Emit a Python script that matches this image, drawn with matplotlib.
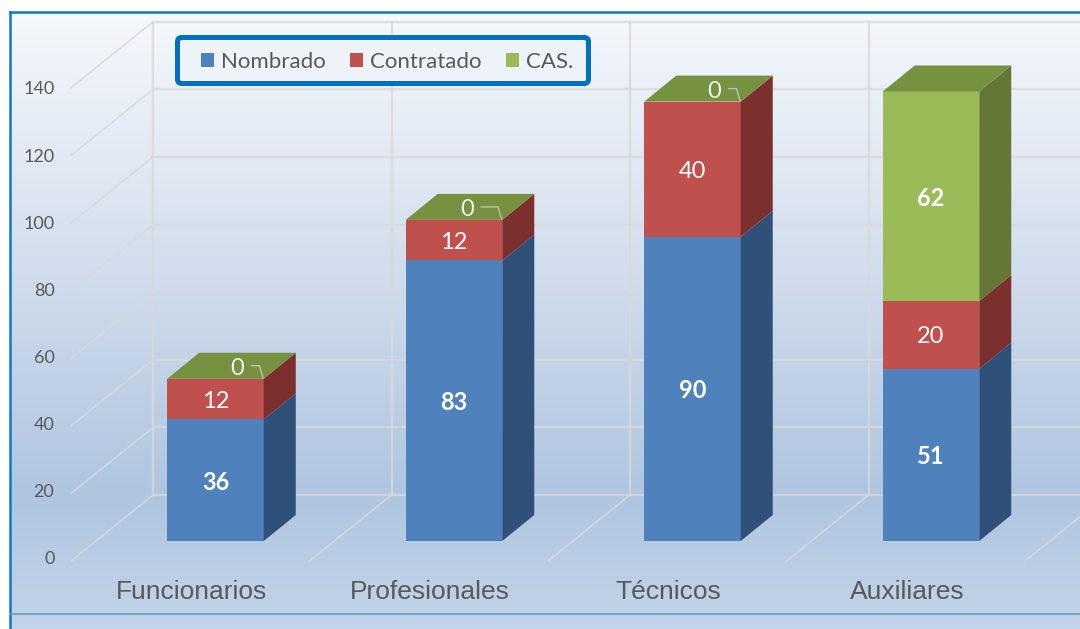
#stacked columns drawn with a fake 3D look, faces added on top of the normal bars
import numpy as np
import matplotlib
matplotlib.use('Agg')
import matplotlib.pyplot as plt
from matplotlib.lines import Line2D
from matplotlib.patches import FancyBboxPatch
from matplotlib.colors import LinearSegmentedColormap

categorias = ['Funcionarios', 'Profesionales', 'Técnicos', 'Auxiliares']
nombrado = [36, 83, 90, 51]
contratado = [12, 12, 40, 20]
cas = [0, 0, 0, 62]
series_nombres = ['Nombrado', 'Contratado', 'CAS.']
yticks = [0, 20, 40, 60, 80, 100, 120, 140]

frente = ['#4F81BD', '#C0504D', '#9BBB59']
lado = ['#2F5078', '#7B302E', '#647735']
tapa = '#76913F'
gris = '#595959'
rejilla = '#D9D9D9'

W, H = 1080, 629
PX_CAT = 238.5    # px per category
PX_VAL = 3.38     # px per unit of value
ANCHO = 96.5 / PX_CAT
DX, DY = 32 / PX_CAT, 26 / PX_VAL     # bar depth
PARED_X, PARED_Y = (153 - 215.5) / PX_CAT, 46 / PX_VAL     # back wall shift
PISO_X, PISO_Y = (71 - 215.5) / PX_CAT, -20 / PX_VAL       # front floor shift
CERO_DX = [22, 13, 22, 22]     # the 0 labels were moved by hand in the original

plt.rcParams['font.family'] = ['Lato', 'DejaVu Sans']
fig = plt.figure(figsize=(W / 100, H / 100), dpi=100, facecolor='white')


def caja(x0, y0, x1, y1):
    # pixels measured from the top left -> figure fractions
    return [x0 / W, 1 - y1 / H, (x1 - x0) / W, (y1 - y0) / H]


# background gradient and frame
bg = fig.add_axes(caja(10, 12, W + 5, H + 5), zorder=0)
cmap = LinearSegmentedColormap.from_list('fondo', [(0, '#F5F8FC'), (0.3, '#DCE5F1'), (0.78, '#AFC5E0'), (1, '#C4D5E9')])
bg.imshow(np.linspace(0, 1, 256).reshape(-1, 1), aspect='auto', cmap=cmap)
bg.set_xticks([])
bg.set_yticks([])
for s in ['right', 'bottom']:
    bg.spines[s].set_visible(False)
for s in ['left', 'top']:
    bg.spines[s].set_color('#0F78C8')
    bg.spines[s].set_linewidth(1.8)
fig.add_artist(Line2D([10 / W, 1], [1 - 614 / H] * 2, color='#6F94BF', lw=1.2))

# main axes, value 0 of the bars sits at pixel 541
ax = fig.add_axes(caja(0, 12, W, 575), zorder=1)
ax.patch.set_visible(False)
ax.set_xlim(-215.5 / PX_CAT, (W - 215.5) / PX_CAT)
ax.set_ylim((541 - 575) / PX_VAL, (541 - 12) / PX_VAL)
for s in ax.spines.values():
    s.set_visible(False)

x = np.arange(len(categorias))

# walls
for v in yticks:
    ax.plot([PARED_X, ax.get_xlim()[1]], [v + PARED_Y] * 2, color=rejilla, lw=1.7, alpha=0.8, zorder=1)
    ax.plot([PISO_X, PARED_X], [v + PISO_Y, v + PARED_Y], color=rejilla, lw=1.2, alpha=0.85, zorder=1)
for i in range(1, 5):
    ax.plot([i + PISO_X, i + PARED_X], [PISO_Y, PARED_Y], color=rejilla, lw=1.2, alpha=0.85, zorder=1)
for i in range(4):
    ax.plot([i + PARED_X] * 2, [PARED_Y, 140 + PARED_Y], color=rejilla, lw=1.7, alpha=0.8, zorder=1)

# bars + side faces
base = np.zeros(len(x))
barras = []
for valores, nombre, c_f, c_l in zip([nombrado, contratado, cas], series_nombres, frente, lado):
    valores = np.array(valores)
    barras.append(ax.bar(x, valores, ANCHO, bottom=base, color=c_f, label=nombre, zorder=3))
    for i in x:
        der = i + ANCHO / 2
        ax.fill([der, der + DX, der + DX, der],
                [base[i], base[i] + DY, base[i] + valores[i] + DY, base[i] + valores[i]],
                color=c_l, lw=0, zorder=3)
    base = base + valores

# top faces
for i in x:
    izq, der = i - ANCHO / 2, i + ANCHO / 2
    ax.fill([izq, der, der + DX, izq + DX], [base[i], base[i], base[i] + DY, base[i] + DY],
            color=tapa, lw=0, zorder=3)

# data labels
base = np.zeros(len(x))
for valores, negrita in zip([nombrado, contratado, cas], [True, False, True]):
    for i, v in enumerate(valores):
        if v > 0:
            ax.text(i, base[i] + v / 2, str(v), color='white', ha='center', va='center_baseline', fontsize=17,
                    fontweight='bold' if negrita else 'normal', zorder=4)
    base = base + np.array(valores)

for i, v in enumerate(cas):
    if v == 0:
        d = CERO_DX[i]
        ax.text(i + d / PX_CAT, base[i] + 12 / PX_VAL, '0', color='#F2F2F2', ha='center', va='center_baseline',
                fontsize=17, zorder=4)
        ax.plot([i + (d + 14) / PX_CAT, i + 44 / PX_CAT, i + 47.5 / PX_CAT],
                [base[i] + 13 / PX_VAL, base[i] + 13 / PX_VAL, base[i] + 1 / PX_VAL],
                color='#BFBFBF', lw=1, zorder=4)

# category labels
ax.set_xticks(x - 24 / PX_CAT)
ax.set_xticklabels(categorias, fontsize=19, color=gris, family='Liberation Sans')
ax.set_yticks([])
ax.tick_params(axis='x', length=0, pad=3.5)

# value axis lives on the front edge of the floor
ay = fig.add_axes(caja(60, 88, 62, 558), zorder=2)
ay.patch.set_visible(False)
ay.set_ylim(0, 140)
ay.set_xticks([])
ay.set_yticks(yticks)
ay.tick_params(axis='y', length=0, pad=4, labelsize=13, labelcolor=gris)
for s in ay.spines.values():
    s.set_visible(False)

# legend frame is wider than the legend padding allows, so it is a separate patch
ax.add_patch(FancyBboxPatch((177.5 / W, 1 - 83.5 / H), 411 / W, 46 / H, transform=fig.transFigure,
                            boxstyle='round,pad=0,rounding_size=0.004', mutation_aspect=W / H,
                            facecolor='#EEF2F9', edgecolor='#0070C0', linewidth=3.6, zorder=5, clip_on=False))
leg = ax.legend(handles=[b[0] for b in barras], labels=series_nombres, ncol=3, loc='center',
                bbox_to_anchor=(387 / W, (575 - 62) / (575 - 12)), fontsize=16, labelcolor=gris,
                handlelength=0.6, handleheight=0.6, handletextpad=0.3, columnspacing=1.1, borderpad=0.3,
                frameon=False)
leg.set_zorder(6)

fig.savefig('out.png', dpi=100, facecolor='white')
